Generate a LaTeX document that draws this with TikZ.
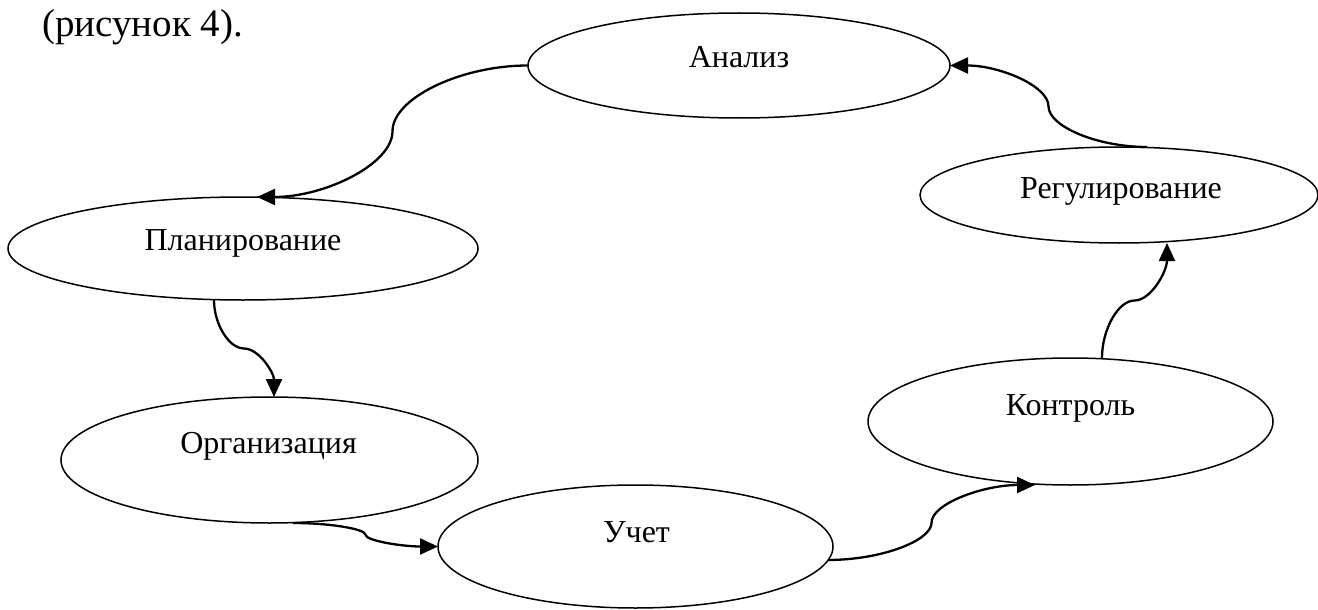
\documentclass[tikz,border=0pt]{standalone}
\usepackage{fontspec}
\setmainfont{Liberation Serif}
\usetikzlibrary{shapes.geometric,arrows.meta,calc}
\newcommand\myhc[2]{\draw[conn] let \p1=(#1), \p2=(#2) in (\p1) .. controls ({(3*\x1+\x2)/4},\y1) and ({(\x1+\x2)/2},{(3*\y1+\y2)/4}) .. ({(\x1+\x2)/2},{(\y1+\y2)/2}) .. controls ({(\x1+\x2)/2},{(\y1+3*\y2)/4}) and ({(\x1+3*\x2)/4},\y2) .. (\p2);}
\newcommand\myvc[2]{\draw[conn] let \p1=(#1), \p2=(#2) in (\p1) .. controls (\x1,{(3*\y1+\y2)/4}) and ({(3*\x1+\x2)/4},{(\y1+\y2)/2}) .. ({(\x1+\x2)/2},{(\y1+\y2)/2}) .. controls ({(\x1+3*\x2)/4},{(\y1+\y2)/2}) and (\x2,{(\y1+3*\y2)/4}) .. (\p2);}
\begin{document}
\begin{tikzpicture}[x=1pt,y=-1pt,
  ell/.style={draw,ellipse,line width=1.5pt,inner sep=0pt,outer sep=0pt},
  lbl/.style={anchor=base,inner sep=0pt,font=\fontsize{32}{36}\selectfont},
  conn/.style={line width=2.3pt,-{Triangle[length=18pt,width=16pt]}}]
\useasboundingbox (0,0) rectangle (1318,610);
\node[anchor=base west,inner sep=0pt,font=\fontsize{39}{42}\selectfont] (cap) at (42,37) {(рисунок 4).};
\node[ell,minimum width=422pt,minimum height=105pt] (an) at (739,65.5) {};
\node[ell,minimum width=398pt,minimum height=96pt] (rg) at (1119,195) {};
\node[ell,minimum width=470pt,minimum height=103pt] (pl) at (243,248.5) {};
\node[ell,minimum width=417pt,minimum height=126pt] (or) at (269.5,460) {};
\node[ell,minimum width=395pt,minimum height=123pt] (uc) at (635.5,546.5) {};
\node[ell,minimum width=405pt,minimum height=127pt] (ko) at (1070.5,421.5) {};
\node[lbl] (anT) at (739,67) {Анализ};
\node[lbl] (rgT) at (1121,198) {Регулирование};
\node[lbl] (plT) at (243,250) {Планирование};
\node[lbl] (orT) at (268.5,453) {Организация};
\node[lbl] (ucT) at (636.5,542) {Учет};
\node[lbl] (koT) at (1070.5,415) {Контроль};
\myhc{an.west}{[xshift=14pt]pl.north}
\myvc{[xshift=-29pt]pl.south}{[xshift=4.5pt]or.north}
\myhc{[xshift=23.5pt]or.south}{uc.west}
\myhc{uc.-4}{[xshift=-35.5pt]ko.south}
\myvc{[xshift=31.5pt]ko.north}{[xshift=48pt]rg.south}
\myhc{[xshift=28pt]rg.north}{an.east}
\end{tikzpicture}
\end{document}
